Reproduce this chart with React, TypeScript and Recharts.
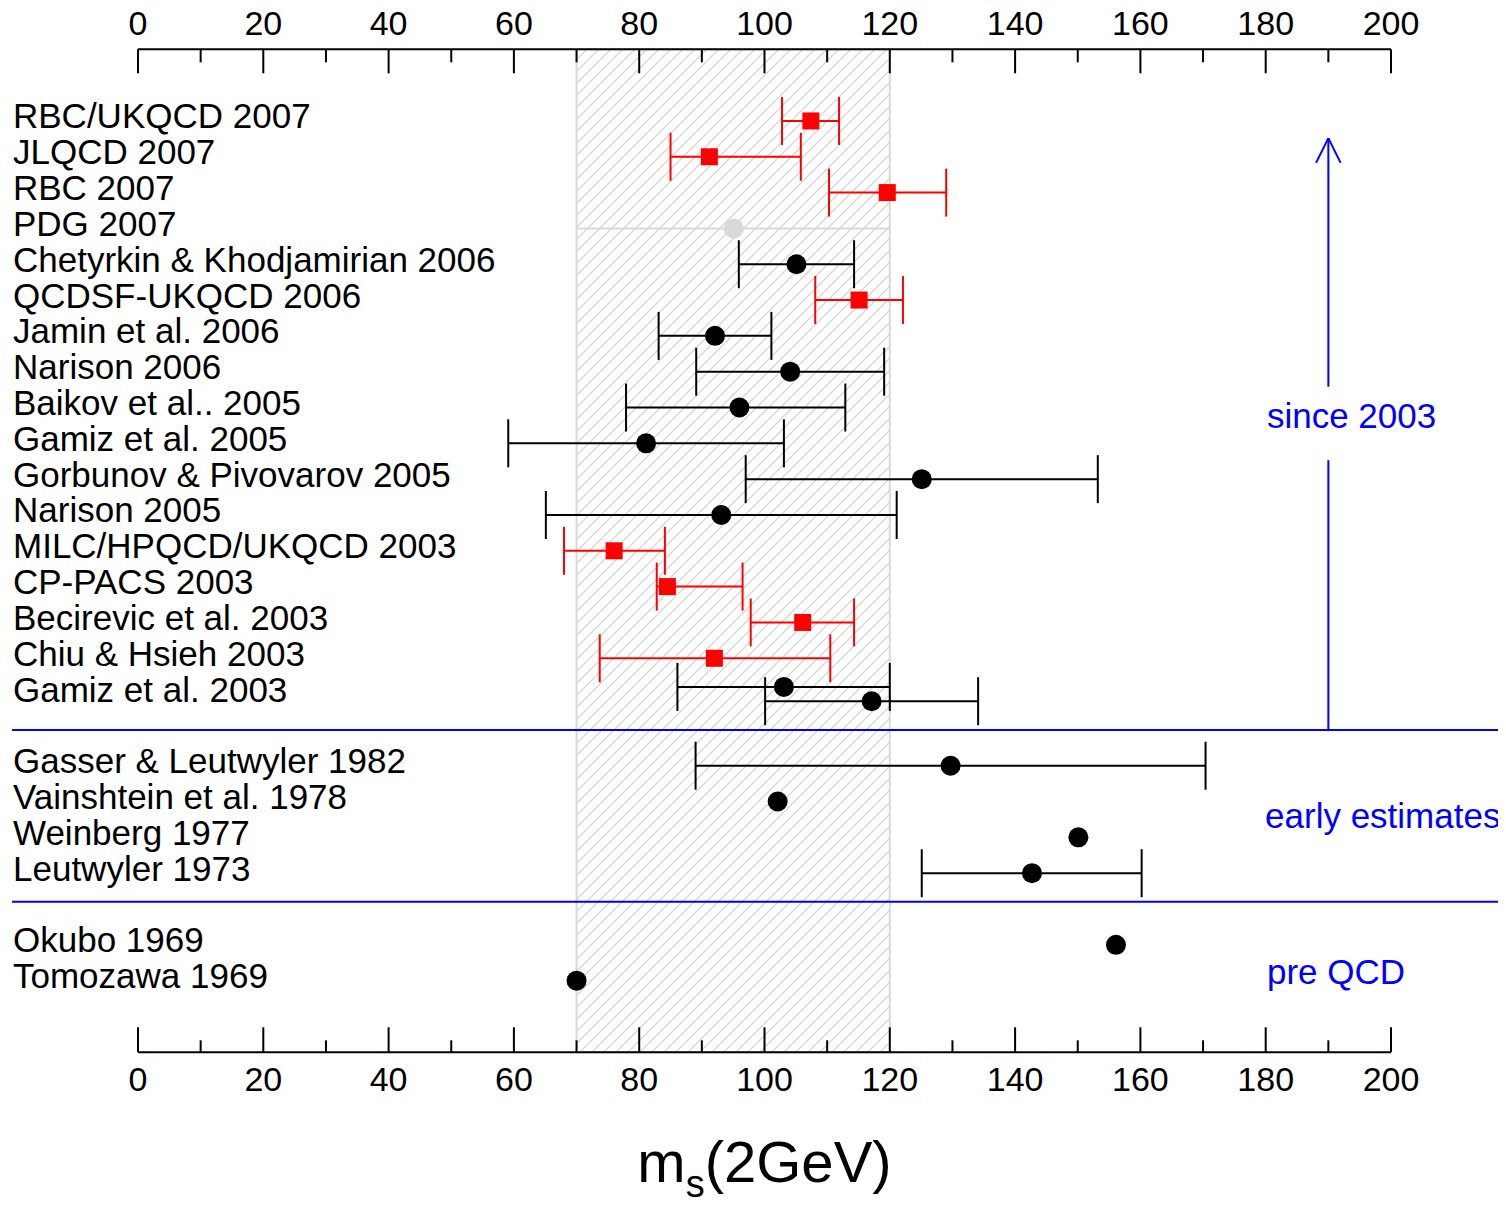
import React from 'react';
import {
  ScatterChart,
  Scatter,
  XAxis,
  YAxis,
  ErrorBar,
  ReferenceArea,
  ReferenceLine,
  ReferenceDot,
} from 'recharts';

const FONT = '"Liberation Sans", Arial, Helvetica, sans-serif';

// ---------- axis ----------
const xTicks = [0, 10, 20, 30, 40, 50, 60, 70, 80, 90, 100, 110, 120, 130, 140, 150, 160, 170, 180, 190, 200];

// ---------- row labels ----------
const labelNames = [
  'RBC/UKQCD 2007',
  'JLQCD 2007',
  'RBC 2007',
  'PDG 2007',
  'Chetyrkin & Khodjamirian 2006',
  'QCDSF-UKQCD 2006',
  'Jamin et al. 2006',
  'Narison 2006',
  'Baikov et al.. 2005',
  'Gamiz et al. 2005',
  'Gorbunov & Pivovarov 2005',
  'Narison 2005',
  'MILC/HPQCD/UKQCD 2003',
  'CP-PACS 2003',
  'Becirevic et al. 2003',
  'Chiu & Hsieh 2003',
  'Gamiz et al. 2003',
  'Gasser & Leutwyler 1982',
  'Vainshtein et al. 1978',
  'Weinberg 1977',
  'Leutwyler 1973',
  'Okubo 1969',
  'Tomozawa 1969',
];
const labelRows = [0, 1, 2, 3, 4, 5, 6, 7, 8, 9, 10, 11, 12, 13, 14, 15, 16, 18, 19, 20, 21, 23, 24];

// ---------- lattice results (red squares) ----------
const latticeRow = [0, 1, 2, 5, 12, 13, 14, 15];
const latticeVal = [107.4, 91.2, 119.6, 115.1, 76.0, 84.5, 106.1, 92.0];
const latticeLo = [102.8, 85.0, 110.3, 108.1, 68.0, 82.8, 97.8, 73.7];
const latticeHi = [111.9, 105.8, 129.0, 122.1, 84.1, 96.5, 114.3, 110.5];

// ---------- other results with errors (black circles) ----------
const otherRow = [4, 6, 7, 8, 9, 10, 11, 15.8, 16.2, 18, 21];
const otherVal = [105.1, 92.1, 104.1, 96.0, 81.1, 125.1, 93.1, 103.1, 117.1, 129.7, 142.7];
const otherLo = [95.9, 83.1, 89.1, 77.9, 59.1, 97.0, 65.1, 86.1, 100.1, 89.0, 125.1];
const otherHi = [114.3, 101.1, 119.1, 112.9, 103.1, 153.2, 121.1, 120.0, 134.1, 170.4, 160.2];

// ---------- results without errors ----------
const plainRow = [19, 20, 23, 24];
const plainVal = [102.1, 150.1, 156.1, 70.0];

// ---------- PDG ----------
const pdgRow = [3];
const pdgVal = [95.1];
const pdgBandLo = 70;
const pdgBandHi = 120;

// ---------- annotations ----------
const sectionBreaks = [17, 21.8];
const breakSpan = [-20.1, 218.5];
const arrowX = 190;
const arrowTip = 0.48;
const arrowWing = 1.17;
const arrowWingDx = 1.96;
const arrowUpperEnd = 7.42;
const arrowLowerStart = 9.47;
const annoTexts = ['since 2003', 'early estimates', 'pre QCD'];
const annoX = [180.2, 179.9, 180.2];
const annoRow = [8.24, 19.39, 23.76];
const titleX = 100;
const titleRow = 29.62;

const latticeData = latticeVal.map((x, i) => ({ x, y: latticeRow[i], ex: [x - latticeLo[i], latticeHi[i] - x] }));
const otherData = otherVal.map((x, i) => ({ x, y: otherRow[i], ex: [x - otherLo[i], otherHi[i] - x] }));
const plainData = plainVal.map((x, i) => ({ x, y: plainRow[i] }));
const pdgData = pdgVal.map((x, i) => ({ x, y: pdgRow[i] }));

const TICK_FONT = 34;
const LABEL_FONT = 35;

const TopTick = (p: any) => {
  const major = p.payload.value % 20 === 0;
  return (
    <g>
      <line x1={p.x} x2={p.x} y1={p.y} y2={p.y + (major ? 24 : 13)} stroke="#000" strokeWidth={2} />
      {major && (
        <text x={p.x} y={p.y - 14.3} textAnchor="middle" fontSize={TICK_FONT} fontFamily={FONT} fill="#000">
          {p.payload.value}
        </text>
      )}
    </g>
  );
};

const BottomTick = (p: any) => {
  const major = p.payload.value % 20 === 0;
  return (
    <g>
      <line x1={p.x} x2={p.x} y1={p.y} y2={p.y - (major ? 25 : 12)} stroke="#000" strokeWidth={2} />
      {major && (
        <text x={p.x} y={p.y + 38.4} textAnchor="middle" fontSize={TICK_FONT} fontFamily={FONT} fill="#000">
          {p.payload.value}
        </text>
      )}
    </g>
  );
};

const NameTick = (p: any) => {
  const idx = labelRows.indexOf(p.payload.value);
  return (
    <text x={p.x - 125} y={p.y + 7.5} fontSize={LABEL_FONT} fontFamily={FONT} fill="#000" textAnchor="start">
      {labelNames[idx]}
    </text>
  );
};

const Square = (p: any) => <rect x={p.cx - 8.5} y={p.cy - 8.5} width={17} height={17} fill="#ff0000" />;
const BlackDot = (p: any) => <circle cx={p.cx} cy={p.cy} r={10} fill="#000" />;
const GreyDot = (p: any) => <circle cx={p.cx} cy={p.cy} r={10} fill="#d9d9d9" />;

const makeAnno = (text: string) => (p: any) => (
  <text x={p.cx} y={p.cy} dy="0.35em" fontSize={LABEL_FONT} fontFamily={FONT} fill="#0000ff" textAnchor="start">
    {text}
  </text>
);

const TitleShape = (p: any) => (
  <text x={p.cx} y={p.cy} textAnchor="middle" fontSize={58} fontFamily={FONT} fill="#000">
    <tspan>m</tspan>
    <tspan dy={15} fontSize={38}>s</tspan>
    <tspan dy={-15}>(2GeV)</tspan>
  </text>
);

export default function App() {
  return (
    <div style={{ marginTop: -8, marginLeft: -8, width: 1506, height: 1207 }}>
      <ScatterChart
        width={1506}
        height={1207}
        margin={{ top: 9.3, right: 115, bottom: 94.7, left: 128 }}
      >
        <defs>
          <pattern id="hatch" patternUnits="userSpaceOnUse" width={12} height={12}>
            <path d="M-3,3 L3,-3 M0,12 L12,0 M9,15 L15,9" stroke="#d6d6d6" strokeWidth={1.3} />
          </pattern>
        </defs>
        <XAxis
          xAxisId="b"
          type="number"
          dataKey="x"
          domain={[0, 200]}
          ticks={xTicks}
          interval={0}
          orientation="bottom"
          height={60}
          tickSize={0}
          tickMargin={0}
          tickLine={false}
          axisLine={{ stroke: '#000', strokeWidth: 2 }}
          tick={BottomTick}
        />
        <XAxis
          xAxisId="t"
          type="number"
          dataKey="x"
          domain={[0, 200]}
          ticks={xTicks}
          interval={0}
          orientation="top"
          height={40}
          tickSize={0}
          tickMargin={0}
          tickLine={false}
          axisLine={{ stroke: '#000', strokeWidth: 2 }}
          tick={TopTick}
        />
        <YAxis
          yAxisId="l"
          type="number"
          dataKey="y"
          domain={[-2, 26]}
          reversed
          ticks={labelRows}
          interval={0}
          width={10}
          tickSize={0}
          tickMargin={0}
          tickLine={false}
          axisLine={false}
          tick={NameTick}
        />
        <ReferenceArea
          xAxisId="b"
          yAxisId="l"
          x1={pdgBandLo}
          x2={pdgBandHi}
          y1={-2}
          y2={26}
          fill="url(#hatch)"
          fillOpacity={1}
          stroke="#d9d9d9"
          strokeWidth={2}
        />
        <ReferenceLine
          xAxisId="b"
          yAxisId="l"
          segment={[{ x: pdgBandLo, y: pdgRow[0] }, { x: pdgBandHi, y: pdgRow[0] }]}
          stroke="#d9d9d9"
          strokeWidth={2}
        />
        {sectionBreaks.map((r) => (
          <ReferenceLine
            key={r}
            xAxisId="b"
            yAxisId="l"
            ifOverflow="visible"
            segment={[{ x: breakSpan[0], y: r }, { x: breakSpan[1], y: r }]}
            stroke="#0000ff"
            strokeWidth={2}
          />
        ))}
        <ReferenceLine
          xAxisId="b"
          yAxisId="l"
          segment={[{ x: arrowX, y: arrowTip }, { x: arrowX, y: arrowUpperEnd }]}
          stroke="#0000ff"
          strokeWidth={2}
        />
        <ReferenceLine
          xAxisId="b"
          yAxisId="l"
          segment={[{ x: arrowX, y: arrowLowerStart }, { x: arrowX, y: sectionBreaks[0] }]}
          stroke="#0000ff"
          strokeWidth={2}
        />
        <ReferenceLine
          xAxisId="b"
          yAxisId="l"
          segment={[{ x: arrowX - arrowWingDx, y: arrowWing }, { x: arrowX, y: arrowTip }]}
          stroke="#0000ff"
          strokeWidth={2}
        />
        <ReferenceLine
          xAxisId="b"
          yAxisId="l"
          segment={[{ x: arrowX, y: arrowTip }, { x: arrowX + arrowWingDx, y: arrowWing }]}
          stroke="#0000ff"
          strokeWidth={2}
        />
        {annoTexts.map((t, i) => (
          <ReferenceDot
            key={t}
            xAxisId="b"
            yAxisId="l"
            x={annoX[i]}
            y={annoRow[i]}
            ifOverflow="visible"
            shape={makeAnno(t)}
          />
        ))}
        <ReferenceDot xAxisId="b" yAxisId="l" x={titleX} y={titleRow} ifOverflow="visible" shape={TitleShape} />
        <Scatter xAxisId="b" yAxisId="l" data={pdgData} shape={GreyDot} isAnimationActive={false} />
        <Scatter xAxisId="b" yAxisId="l" data={otherData} shape={BlackDot} isAnimationActive={false}>
          <ErrorBar dataKey="ex" direction="x" width={24} stroke="#000" strokeWidth={2} isAnimationActive={false} />
        </Scatter>
        <Scatter xAxisId="b" yAxisId="l" data={latticeData} shape={Square} isAnimationActive={false}>
          <ErrorBar dataKey="ex" direction="x" width={24} stroke="#ff0000" strokeWidth={2} isAnimationActive={false} />
        </Scatter>
        <Scatter xAxisId="t" yAxisId="l" data={plainData} shape={BlackDot} isAnimationActive={false} />
      </ScatterChart>
    </div>
  );
}
